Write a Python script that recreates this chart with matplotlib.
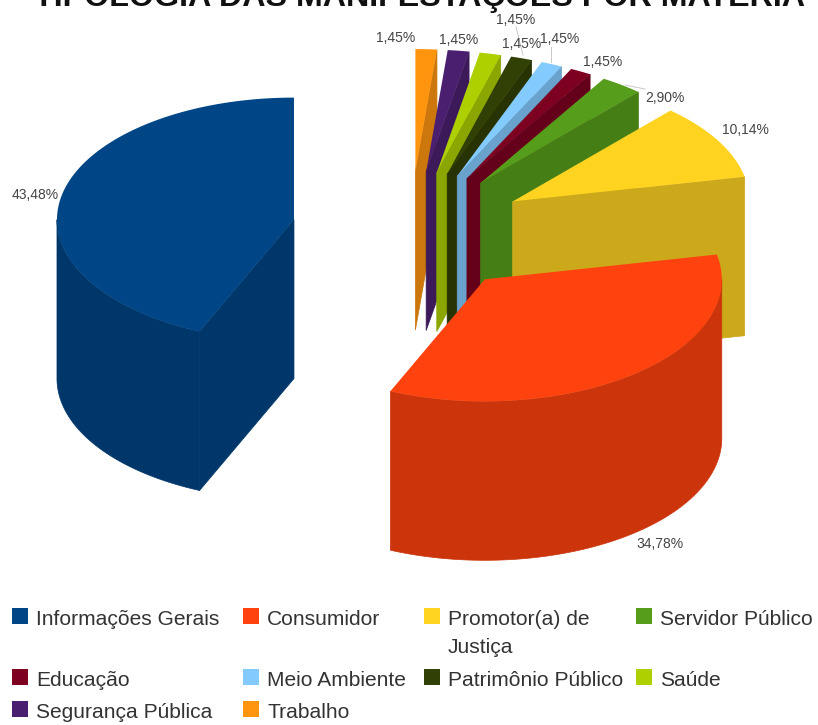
import numpy as np
import matplotlib
matplotlib.use("Agg")
import matplotlib.pyplot as plt
from matplotlib.patches import Rectangle

plt.rcParams['font.family'] = ['Liberation Sans', 'DejaVu Sans']

title = "TIPOLOGIA DAS MANIFESTAÇÕES POR MATÉRIA"
categories = ["Informações Gerais", "Consumidor", "Promotor(a) de\nJustiça", "Servidor Público",
              "Educação", "Meio Ambiente", "Patrimônio Público", "Saúde",
              "Segurança Pública", "Trabalho"]
values = [43.48, 34.78, 10.14, 2.90, 1.45, 1.45, 1.45, 1.45, 1.45, 1.45]
value_labels = ["43,48%", "34,78%", "10,14%", "2,90%", "1,45%", "1,45%", "1,45%", "1,45%", "1,45%", "1,45%"]

colors = ["#004586", "#ff420e", "#ffd320", "#579d1c", "#7e0021",
          "#83caff", "#314004", "#aecf00", "#4b1f6f", "#ff950e"]

# pie layout, in pixels of the picture
cx, cy = 410, 232
rx, ry = 237, 122
depth = 159
explode = 0.5
start_angle = 90

label_pos = [(35, 195), (660, 544), (745, 130), (665, 98), (603, 62),
             (560, 39), (522, 44), (516, 20), (459, 40), (396, 38)]
legend_x = [12, 243, 424, 636]
legend_box_y = [616, 677, 709]
legend_text_y = [619, 680, 712]

fig = plt.figure(figsize=(8.18, 7.25), dpi=100)
ax = fig.add_axes([0, 0, 1, 1])
ax.set_xlim(0, 818)
ax.set_ylim(725, 0)
ax.axis("off")


def darker(color):
    return tuple(c * 0.8 for c in matplotlib.colors.to_rgb(color))


def arc(ox, oy, a, b):
    t = np.radians(np.linspace(a, b, 100))
    return ox + rx * np.cos(t), oy - ry * np.sin(t)


def radial_side(ox, oy, ang, color):
    ex, ey = arc(ox, oy, ang, ang)
    xs = [ox, ex[0], ex[0], ox]
    ys = [oy, ey[0], ey[0] + depth, oy + depth]
    ax.fill(xs, ys, facecolor=color, edgecolor=color, lw=0.5)


edges = start_angle + np.cumsum([0] + values) * 3.6

# back slices first, the last one in the list sits furthest back
for i in reversed(range(len(values))):
    a, b = edges[i], edges[i + 1]
    mid = np.radians((a + b) / 2)
    ox = cx + explode * rx * np.cos(mid)
    oy = cy - explode * ry * np.sin(mid)
    side = darker(colors[i])

    # flat cut faces, only the ones turned to the viewer
    if np.sin(np.radians(a - 90)) < 0:
        radial_side(ox, oy, a, side)
    if np.sin(np.radians(b + 90)) < 0:
        radial_side(ox, oy, b, side)

    # outer wall
    w0, w1 = max(a, 180), min(b, 360)
    if w1 > w0:
        wx, wy = arc(ox, oy, w0, w1)
        ax.fill(np.r_[wx, wx[::-1]], np.r_[wy, wy[::-1] + depth], facecolor=side, edgecolor=side, lw=0.5)

    # top face
    tx, ty = arc(ox, oy, a, b)
    ax.fill(np.r_[ox, tx], np.r_[oy, ty], color=colors[i], lw=0)

# leader lines
ax.plot([516, 523], [27, 55], color="#c8c8c8", lw=0.7)
ax.plot([551, 551], [47, 62], color="#c8c8c8", lw=0.7)
ax.plot([625, 645], [85, 89], color="#c8c8c8", lw=0.7)

for lab, (x, y) in zip(value_labels, label_pos):
    ax.text(x, y, lab, fontsize=10, color="#444444", ha="center", va="center")

ax.text(419, 6, title, fontsize=23.2, fontweight="bold", color="#111111", ha="center", va="baseline")

# legend
for i, name in enumerate(categories):
    row = 0 if i < 4 else (1 if i < 8 else 2)
    col = i if i < 4 else (i - 4 if i < 8 else i - 8)
    x = legend_x[col]
    ax.add_patch(Rectangle((x, legend_box_y[row] - 8), 16, 16, facecolor=colors[i], edgecolor="none"))
    ax.text(x + 24, legend_text_y[row] - 9, name, fontsize=15.1, color="#333333", ha="left", va="top", linespacing=1.63)

fig.savefig("out.png", dpi=100)
